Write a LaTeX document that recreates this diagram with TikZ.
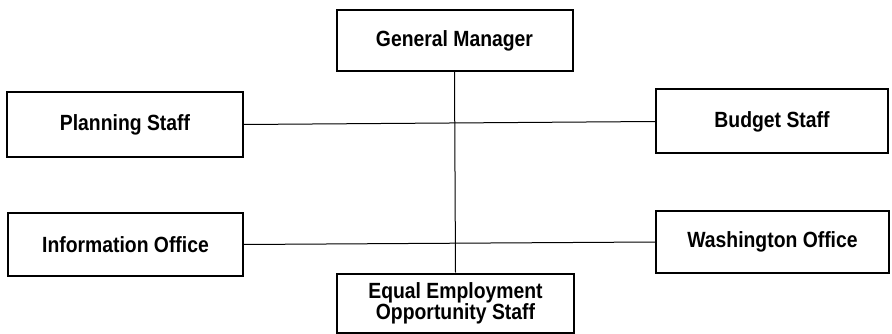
\documentclass[tikz,border=0pt]{standalone}
\usepackage{fontspec}
\setmainfont{Liberation Sans}[FakeStretch=0.88]
\begin{document}
\begin{tikzpicture}[x=1pt,y=-1pt,
  unit/.style={draw=black, line width=2pt, fill=white, inner sep=0pt, align=center,
    font=\fontsize{22}{21}\selectfont\bfseries},
  link/.style={draw=black, line width=1pt}]
\useasboundingbox (0,0) rectangle (892,334);
\node[unit, minimum width=236pt, minimum height=61pt] (gm) at (454.5,40.5) {General Manager};
\node[unit, minimum width=236pt, minimum height=65pt] (plan) at (125,124.5) {Planning Staff};
\node[unit, minimum width=232pt, minimum height=64pt] (budget) at (772,121.5) {Budget Staff};
\node[unit, minimum width=235pt, minimum height=63pt] (info) at (125.5,244.5) {Information Office};
\node[unit, minimum width=233pt, minimum height=62pt] (wash) at (772.5,242) {Washington Office};
\node[unit, minimum width=237pt, minimum height=59pt] (eeo) at (455.5,303) {Equal Employment\\Opportunity Staff};
\draw[link] (gm.south) -- (eeo.north);
\draw[link] (plan.east) -- (budget.west);
\draw[link] (info.east) -- (wash.west);
\end{tikzpicture}
\end{document}
